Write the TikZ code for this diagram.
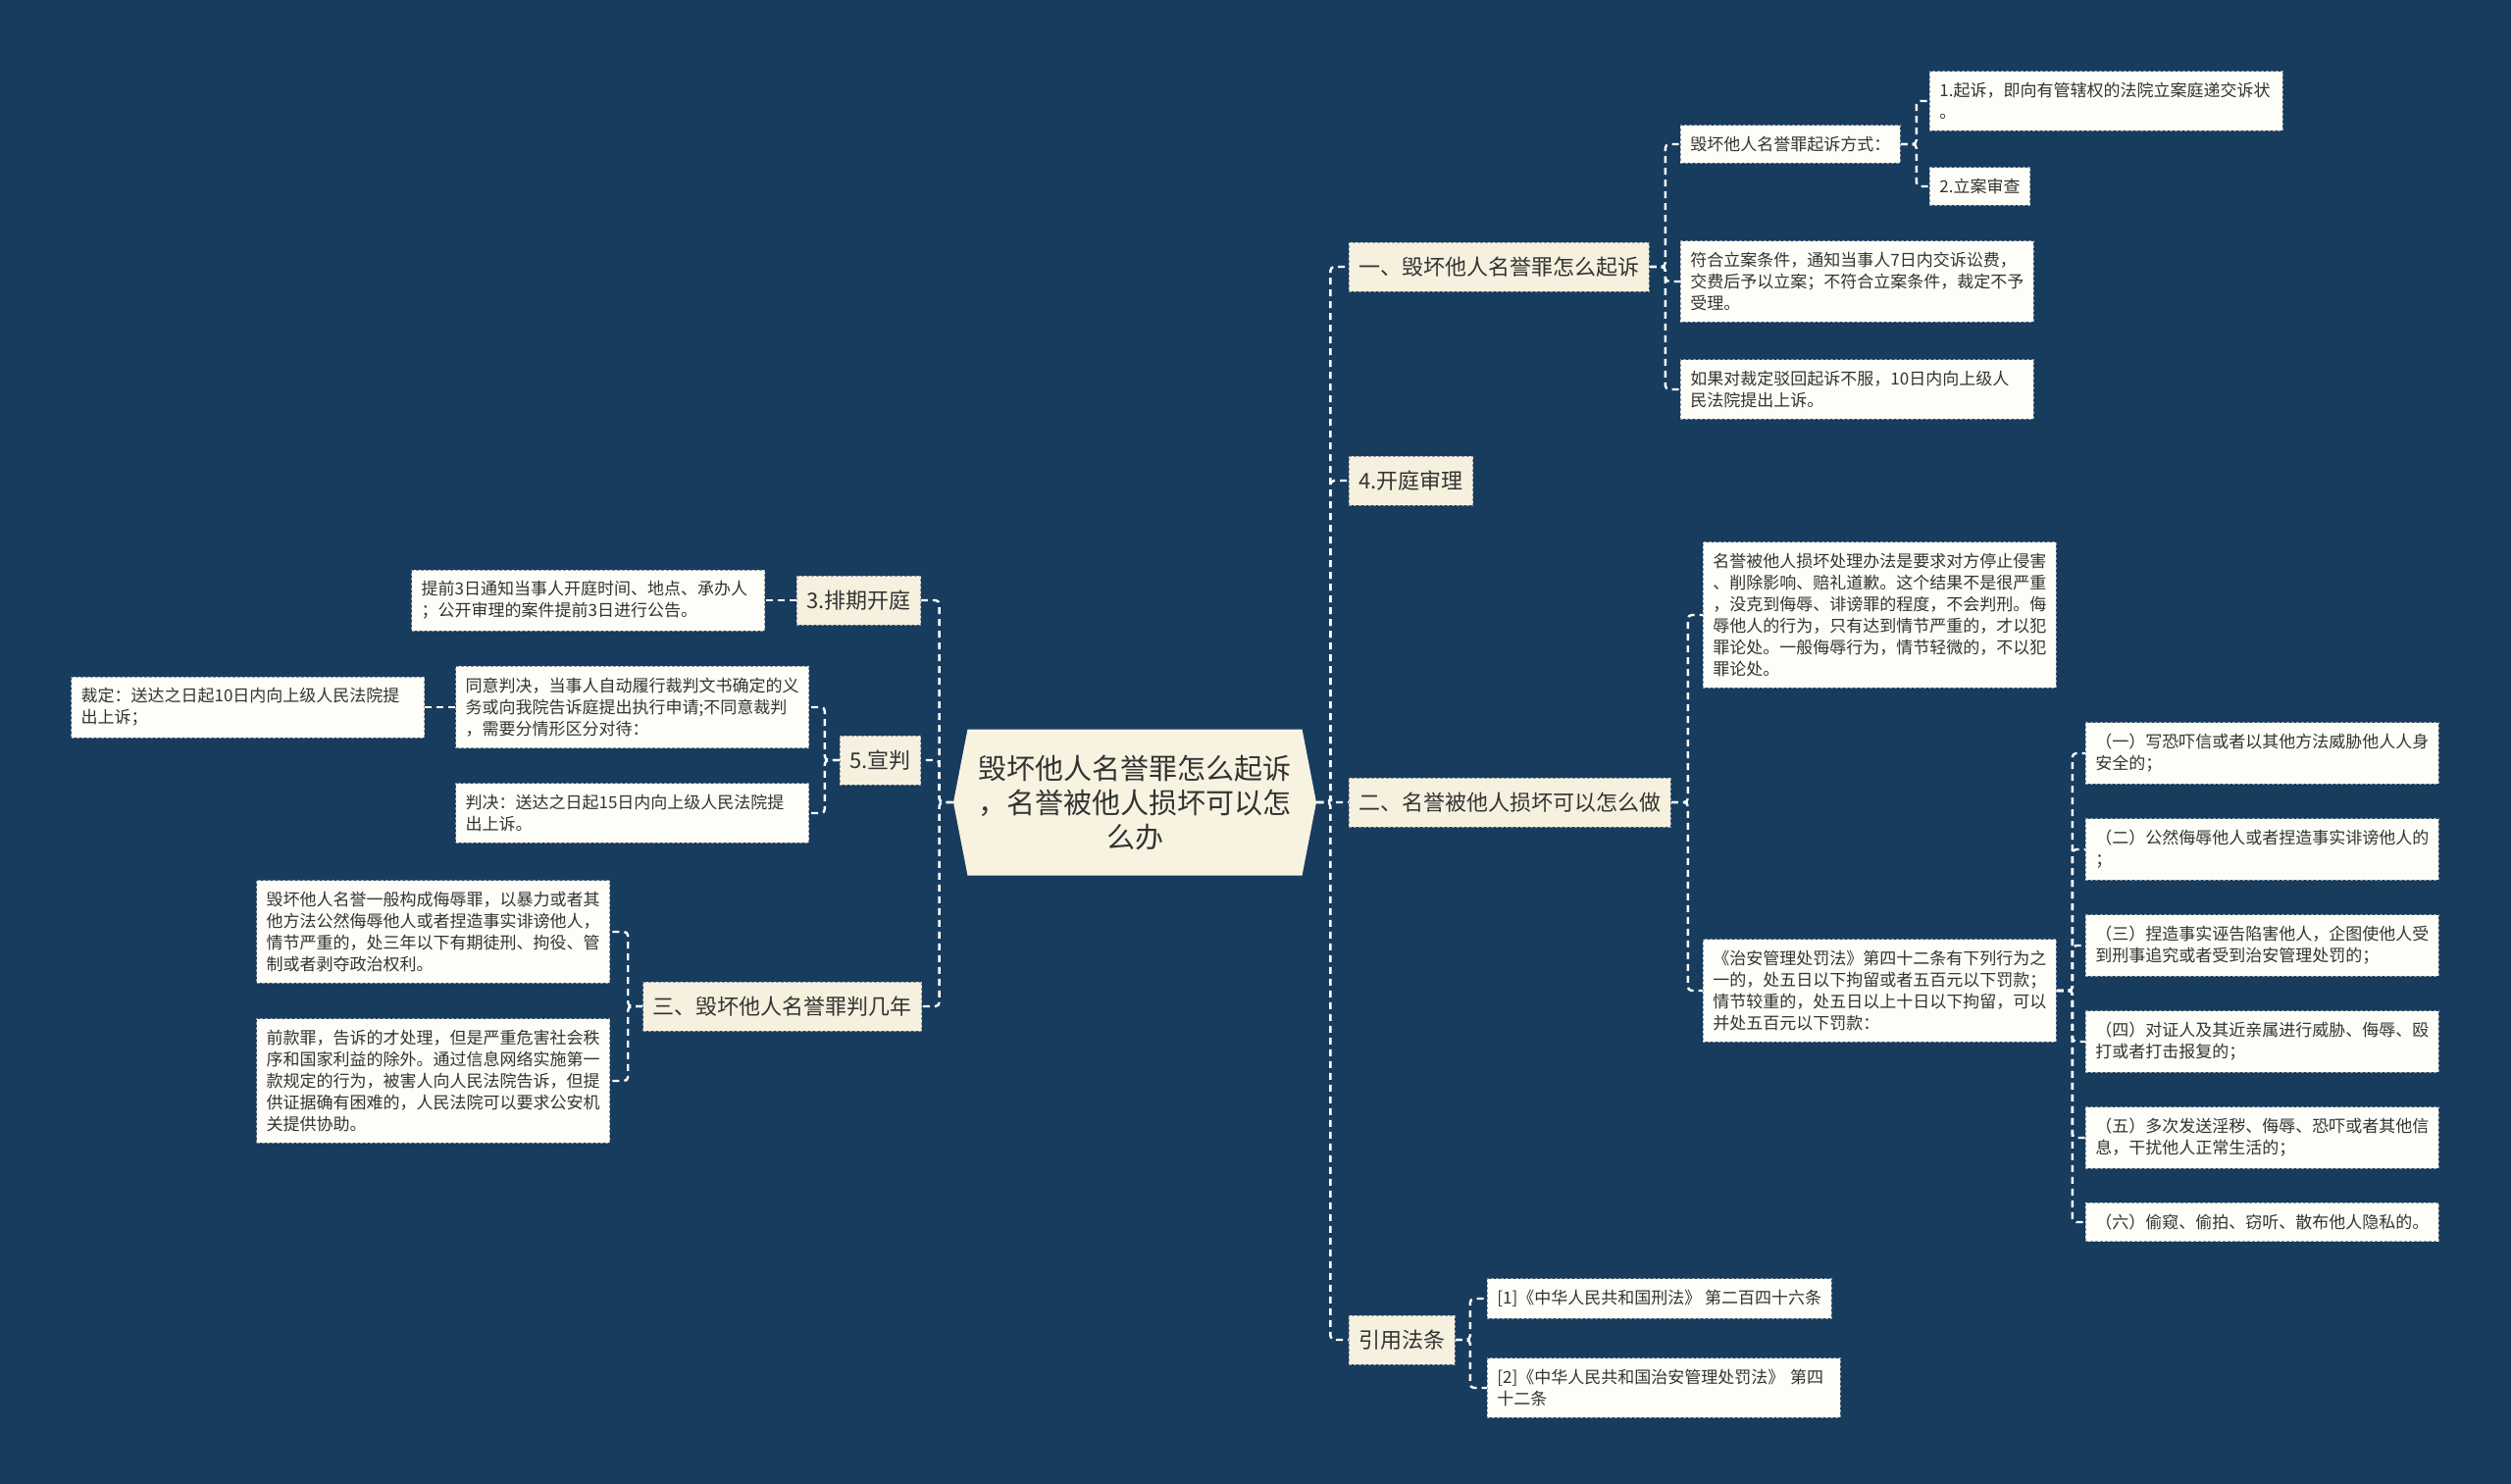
\documentclass[tikz,border=0pt]{standalone}
\usepackage{fontspec}
\setmainfont{Noto Sans CJK SC}
\usetikzlibrary{shapes.symbols}

\definecolor{bgblue}{HTML}{173C5E}
\definecolor{rootfill}{HTML}{F8F3E1}
\definecolor{mainfill}{HTML}{F6F1DE}
\definecolor{subfill}{HTML}{FEFDF8}
\definecolor{boxgray}{HTML}{8E99A4}
\definecolor{inkgray}{HTML}{333333}

\tikzstyle{level_0} = [signal, signal to=east and west, signal pointer angle=158,
fill=rootfill, text=inkgray, align=center, inner sep=0pt,
minimum width=185pt, minimum height=74.5pt, font=\fontsize{14.5}{17.5}\selectfont]
\tikzstyle{level_1} = [rectangle, draw=boxgray, dash pattern=on 1.5pt off 1pt, fill=mainfill,
text=inkgray, inner xsep=5pt, inner ysep=0pt, minimum height=25pt, font=\fontsize{11}{13}\selectfont]
\tikzstyle{level_2} = [rectangle, draw=boxgray, dash pattern=on 1.5pt off 1pt, fill=subfill,
text=inkgray, align=left, inner xsep=5pt, inner ysep=5.75pt, font=\fontsize{8.5}{11}\selectfont]
\tikzstyle{wide} = [text width=170pt]
\tikzstyle{line} = [draw=white, line width=1.2pt, dash pattern=on 3.5pt off 2.5pt, rounded corners=2pt]

\begin{document}
\begin{tikzpicture}[x=0.5pt, y=-0.5pt]
	\fill [bgblue] (0,0) rectangle (2560,1513);

	%Nodes
	\node [level_0] (root) at (1157,818) {毁坏他人名誉罪怎么起诉\\，名誉被他人损坏可以怎\\么办};

	% right side
	\node [level_1, anchor=west] (one) at (1375,272) {一、毁坏他人名誉罪怎么起诉};
	\node [level_1, anchor=west] (trial) at (1375,490) {4.开庭审理};
	\node [level_1, anchor=west] (two) at (1375,818) {二、名誉被他人损坏可以怎么做};
	\node [level_1, anchor=west] (cite) at (1375,1366) {引用法条};

	\node [level_2, anchor=west] (way) at (1713,147) {毁坏他人名誉罪起诉方式：};
	\node [level_2, wide, anchor=west] (sue) at (1967,103) {1.起诉，即向有管辖权的法院立案庭递交诉状\\。};
	\node [level_2, anchor=west] (check) at (1967,190) {2.立案审查};
	\node [level_2, wide, anchor=west] (accept) at (1713,287) {符合立案条件，通知当事人7日内交诉讼费，\\交费后予以立案；不符合立案条件，裁定不予\\受理。};
	\node [level_2, wide, anchor=west] (reject) at (1713,397) {如果对裁定驳回起诉不服，10日内向上级人\\民法院提出上诉。};

	\node [level_2, wide, anchor=west] (remedy) at (1736,627) {名誉被他人损坏处理办法是要求对方停止侵害\\、削除影响、赔礼道歉。这个结果不是很严重\\，没克到侮辱、诽谤罪的程度，不会判刑。侮\\辱他人的行为，只有达到情节严重的，才以犯\\罪论处。一般侮辱行为，情节轻微的，不以犯\\罪论处。};
	\node [level_2, wide, anchor=west] (act) at (1736,1010) {《治安管理处罚法》第四十二条有下列行为之\\一的，处五日以下拘留或者五百元以下罚款；\\情节较重的，处五日以上十日以下拘留，可以\\并处五百元以下罚款：};

	\node [level_2, wide, anchor=west] (i1) at (2126,768) {（一）写恐吓信或者以其他方法威胁他人人身\\安全的；};
	\node [level_2, wide, anchor=west] (i2) at (2126,866) {（二）公然侮辱他人或者捏造事实诽谤他人的\\；};
	\node [level_2, wide, anchor=west] (i3) at (2126,964) {（三）捏造事实诬告陷害他人，企图使他人受\\到刑事追究或者受到治安管理处罚的；};
	\node [level_2, wide, anchor=west] (i4) at (2126,1062) {（四）对证人及其近亲属进行威胁、侮辱、殴\\打或者打击报复的；};
	\node [level_2, wide, anchor=west] (i5) at (2126,1160) {（五）多次发送淫秽、侮辱、恐吓或者其他信\\息，干扰他人正常生活的；};
	\node [level_2, wide, anchor=west] (i6) at (2126,1246) {（六）偷窥、偷拍、窃听、散布他人隐私的。};

	\node [level_2, anchor=west] (law1) at (1516,1324) {[1]《中华人民共和国刑法》 第二百四十六条};
	\node [level_2, wide, anchor=west] (law2) at (1516,1415) {[2]《中华人民共和国治安管理处罚法》 第四\\十二条};

	% left side
	\node [level_1, anchor=east] (sched) at (939,612) {3.排期开庭};
	\node [level_1, anchor=east] (verdict) at (939,775) {5.宣判};
	\node [level_1, anchor=east] (three) at (940,1026) {三、毁坏他人名誉罪判几年};

	\node [level_2, wide, anchor=east] (notice) at (780,612) {提前3日通知当事人开庭时间、地点、承办人\\；公开审理的案件提前3日进行公告。};
	\node [level_2, wide, anchor=east] (agree) at (825,721) {同意判决，当事人自动履行裁判文书确定的义\\务或向我院告诉庭提出执行申请;不同意裁判\\，需要分情形区分对待：};
	\node [level_2, wide, anchor=east] (ruling) at (433,721) {裁定：送达之日起10日内向上级人民法院提\\出上诉；};
	\node [level_2, wide, anchor=east] (judg) at (825,829) {判决：送达之日起15日内向上级人民法院提\\出上诉。};
	\node [level_2, wide, anchor=east] (insult) at (622,950) {毁坏他人名誉一般构成侮辱罪，以暴力或者其\\他方法公然侮辱他人或者捏造事实诽谤他人，\\情节严重的，处三年以下有期徒刑、拘役、管\\制或者剥夺政治权利。};
	\node [level_2, wide, anchor=east] (private) at (622,1102) {前款罪，告诉的才处理，但是严重危害社会秩\\序和国家利益的除外。通过信息网络实施第一\\款规定的行为，被害人向人民法院告诉，但提\\供证据确有困难的，人民法院可以要求公安机\\关提供协助。};

	%Lines
	\foreach \n in {one, trial, two, cite}
		\path [line] (root.east) -- ++(14,0) |- (\n.west);
	\foreach \n in {sched, verdict, three}
		\path [line] (root.west) -- ++(-14,0) |- (\n.east);

	\foreach \n in {way, accept, reject}
		\path [line] (one.east) -- ++(16,0) |- (\n.west);
	\foreach \n in {sue, check}
		\path [line] (way.east) -- ++(16,0) |- (\n.west);
	\foreach \n in {remedy, act}
		\path [line] (two.east) -- ++(17,0) |- (\n.west);
	\foreach \n in {i1, i2, i3, i4, i5, i6}
		\path [line] (act.east) -- ++(16,0) |- (\n.west);
	\foreach \n in {law1, law2}
		\path [line] (cite.east) -- ++(15,0) |- (\n.west);

	\path [line] (sched.west) -- (notice.east);
	\foreach \n in {agree, judg}
		\path [line] (verdict.west) -- ++(-15,0) |- (\n.east);
	\path [line] (agree.west) -- (ruling.east);
	\foreach \n in {insult, private}
		\path [line] (three.west) -- ++(-15,0) |- (\n.east);

\end{tikzpicture}
\end{document}
